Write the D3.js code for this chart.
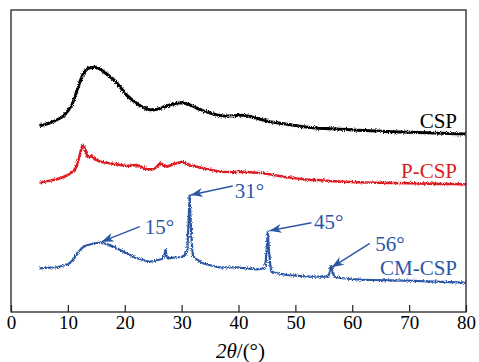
<!DOCTYPE html>
<html>
<head>
<meta charset="utf-8">
<script src="https://cdn.jsdelivr.net/npm/d3@7/dist/d3.min.js"></script>
<style>
  body { margin: 0; background: #fff; }
</style>
</head>
<body>
<div id="chart"></div>
<script>
// diffraction angle (2θ, degrees) and intensity (a.u., curves already offset)
const cspTheta = [5, 6, 7, 8, 9, 10, 10.7, 11.3, 11.8, 12.3, 12.7, 13.2, 13.6, 14.2, 14.8, 15.4, 15.9, 16.6, 17.4, 18.2, 18.9, 19.6, 20.3, 21.2, 22.1, 22.8, 23.6, 24.3, 25, 25.9, 26.8, 27.9, 29.1, 30, 30.8, 31.5, 32.6, 33.8, 35, 36.2, 37.3, 38.5, 39.7, 40.8, 42, 43.2, 44.3, 45.5, 47, 48.5, 50, 51.4, 52.7, 54, 56, 58.4, 61, 64.3, 67, 70.2, 73, 76, 78, 80];
const cspInt = [186.5, 187.5, 189.5, 192, 195, 201, 207, 216, 225, 233, 238.5, 242, 243.7, 244.5, 244.7, 243.8, 242, 239, 235.3, 231.5, 227, 222, 217, 212.5, 208.7, 206, 203.7, 202.5, 202, 203, 204.7, 207, 208.7, 209.3, 208.5, 207, 204, 201.3, 199, 197, 196, 196, 196.5, 197, 195.5, 193.7, 192, 190.3, 189, 187.7, 186.4, 185.3, 184.4, 183.7, 183.2, 182.7, 181.8, 181, 180.3, 179.7, 179.2, 178.7, 178.3, 178];

const pcspTheta = [5, 6, 7, 8, 9, 10, 10.7, 11.2, 11.6, 12, 12.3, 12.6, 12.9, 13.2, 13.5, 13.8, 14.2, 14.6, 15.6, 16.5, 17.4, 18.3, 19.2, 20.3, 21.2, 22.1, 23, 23.9, 25, 25.6, 26.2, 26.8, 27.4, 28.2, 29.1, 29.7, 30.2, 30.7, 31.5, 32.6, 34.5, 36.7, 38.8, 40.8, 42.6, 44.4, 46.2, 47.9, 49.7, 51.4, 53, 54, 56, 58.4, 61, 64.3, 67, 70.2, 73, 76, 80];
const pcspInt = [129.3, 130.5, 131.5, 132.7, 134.5, 137, 139.5, 142.5, 146.5, 155, 162, 167, 165, 160, 155, 154.5, 156.5, 153.5, 150.5, 149.5, 148.7, 148, 147, 146, 146.5, 147, 145, 142.7, 142.7, 145, 148.7, 147, 145.3, 147, 148.7, 149.5, 150.5, 148.5, 146.5, 145.3, 143, 140.3, 140, 140.3, 139.5, 138.7, 137, 135.3, 134, 132.7, 132, 132, 131, 130.3, 129.8, 129.3, 129, 128.7, 128.4, 128, 127.7];

const cmTheta = [5, 6, 7, 8, 9, 10.1, 10.7, 11.3, 11.9, 12.4, 13.2, 14.2, 15, 15.6, 16.5, 17.4, 18.3, 19.2, 20, 20.9, 21.8, 22.7, 23.6, 24.4, 25.2, 25.9, 26.6, 27, 27.15, 27.3, 27.6, 28.3, 29.1, 30, 30.6, 31, 31.2, 31.4, 31.6, 31.8, 32, 32.8, 33.8, 35.2, 36.7, 38.2, 39.7, 41.5, 43.2, 44.3, 44.7, 44.95, 45.15, 45.35, 45.6, 45.8, 47, 48.5, 50.5, 52.6, 54.5, 55.8, 56.1, 56.3, 56.5, 56.8, 58, 59.6, 61.5, 63.7, 66.5, 69.6, 73, 76, 80];
const cmInt = [43.7, 44, 44.3, 44.7, 46, 48, 51, 55.3, 60, 63.7, 66.5, 68, 69, 69.3, 68.5, 67, 64.5, 62, 59.5, 57, 54.5, 52.7, 51.3, 50.3, 51, 52, 53, 58, 62, 57, 53.7, 54.2, 54.7, 55, 57, 62, 87, 116.5, 90, 67, 56, 52, 48.7, 46.5, 44.7, 44.7, 44.7, 43.7, 42.7, 43.5, 45, 62, 80.5, 62, 46, 40.3, 38.5, 37, 36.2, 35.3, 35.3, 35.3, 41, 46, 41, 35.3, 34, 33, 32.4, 32, 31.6, 31.3, 30.7, 30.2, 29.3];

const seriesNames = ["CSP", "P-CSP", "CM-CSP"];
const xTicks = [0, 10, 20, 30, 40, 50, 60, 70, 80];

// peak annotations on CM-CSP: label, angle and intensity of arrow tip
const peakLabels = ["15°", "31°", "45°", "56°"];
const peakTheta = [15.95, 31.6, 45.45, 56.4];
const peakInt = [70.3, 117, 81.3, 44.7];

const width = 479, height = 362;
const margin = {top: 10, right: 13, bottom: 50, left: 11};
const plotW = width - margin.left - margin.right;
const plotH = height - margin.top - margin.bottom;
const serif = '"Liberation Serif", serif';

const colors = ["#000000", "#dd1c24", "#2a56a4"];
const blue = colors[2];

const svg = d3.select('#chart').append('svg')
  .attr('width', width)
  .attr('height', height)
  .style('display', 'block');

const x = d3.scaleLinear().domain([0, 80]).range([margin.left, margin.left + plotW]);
const y = d3.scaleLinear().domain([0, 302]).range([margin.top + plotH, margin.top]);

const defs = svg.append('defs');

// noisy look of the measured patterns
const noise = defs.append('filter')
  .attr('id', 'noise')
  .attr('filterUnits', 'userSpaceOnUse')
  .attr('x', 0).attr('y', 0).attr('width', width).attr('height', height);
noise.append('feTurbulence')
  .attr('type', 'fractalNoise')
  .attr('baseFrequency', '1.1 0.8')
  .attr('numOctaves', 2)
  .attr('seed', 3)
  .attr('result', 't');
noise.append('feDisplacementMap')
  .attr('in', 'SourceGraphic')
  .attr('in2', 't')
  .attr('scale', 3.5)
  .attr('xChannelSelector', 'R')
  .attr('yChannelSelector', 'G');

defs.append('marker')
  .attr('id', 'arrow')
  .attr('markerUnits', 'userSpaceOnUse')
  .attr('markerWidth', 14)
  .attr('markerHeight', 10)
  .attr('refX', 12)
  .attr('refY', 4.5)
  .attr('orient', 'auto')
  .append('path')
  .attr('d', 'M0,0 L12,4.5 L0,9 L3.5,4.5 Z')
  .attr('fill', blue);

// the three curves
const curves = [
  {theta: cspTheta, val: cspInt, w: 3.0},
  {theta: pcspTheta, val: pcspInt, w: 2.6},
  {theta: cmTheta, val: cmInt, w: 2.2}
];

const line = d3.line()
  .x(d => x(d[0]))
  .y(d => y(d[1]));

curves.forEach((c, i) => {
  const pts = c.theta.map((t, k) => [t, c.val[k]]);
  svg.append('path')
    .attr('d', line(pts))
    .attr('fill', 'none')
    .attr('stroke', colors[i])
    .attr('stroke-width', c.w)
    .attr('stroke-linejoin', 'round')
    .attr('filter', 'url(#noise)');
});

// series labels, right aligned near end of each curve
const labelBase = [128, 177.5, 274.5];
seriesNames.forEach((name, i) => {
  svg.append('text')
    .attr('x', 457)
    .attr('y', labelBase[i])
    .attr('text-anchor', 'end')
    .style('font-family', serif)
    .style('font-size', '21px')
    .attr('fill', colors[i])
    .text(name);
});

// arrows with peak positions
const tailOff = [[38, -15], [42, -9], [42, -8], [38, -24]];
const textOff = [[43, -8], [44, 2.5], [44.5, -2], [43.5, -16.5]];
peakLabels.forEach((lab, i) => {
  const tx = x(peakTheta[i]), ty = y(peakInt[i]);
  svg.append('line')
    .attr('x1', tx + tailOff[i][0]).attr('y1', ty + tailOff[i][1])
    .attr('x2', tx).attr('y2', ty)
    .attr('stroke', blue)
    .attr('stroke-width', 1.4)
    .attr('marker-end', 'url(#arrow)');
  svg.append('text')
    .attr('x', tx + textOff[i][0])
    .attr('y', ty + textOff[i][1])
    .style('font-family', serif)
    .style('font-size', '21px')
    .attr('fill', blue)
    .text(lab);
});

// x axis, ticks pointing inward
const xAxis = d3.axisBottom(x)
  .tickValues(xTicks)
  .tickSizeInner(-7)
  .tickSizeOuter(0)
  .tickPadding(3);

const gx = svg.append('g')
  .attr('transform', 'translate(0,' + (margin.top + plotH) + ')')
  .call(xAxis);
gx.select('.domain').remove();
gx.selectAll('line').attr('stroke', '#222').attr('stroke-width', 1.2);
gx.selectAll('text')
  .attr('fill', '#000')
  .style('font-family', serif)
  .style('font-size', '19px');

// frame
svg.append('rect')
  .attr('x', margin.left)
  .attr('y', margin.top)
  .attr('width', plotW)
  .attr('height', plotH)
  .attr('fill', 'none')
  .attr('stroke', '#222')
  .attr('stroke-width', 1.3);

// axis title
const title = svg.append('text')
  .attr('x', margin.left + plotW / 2 + 2)
  .attr('y', 358)
  .attr('text-anchor', 'middle')
  .style('font-family', serif)
  .style('font-size', '21px')
  .attr('fill', '#000');
title.append('tspan').style('font-style', 'italic').text('2θ');
title.append('tspan').text('/(°)');
</script>
</body>
</html>
